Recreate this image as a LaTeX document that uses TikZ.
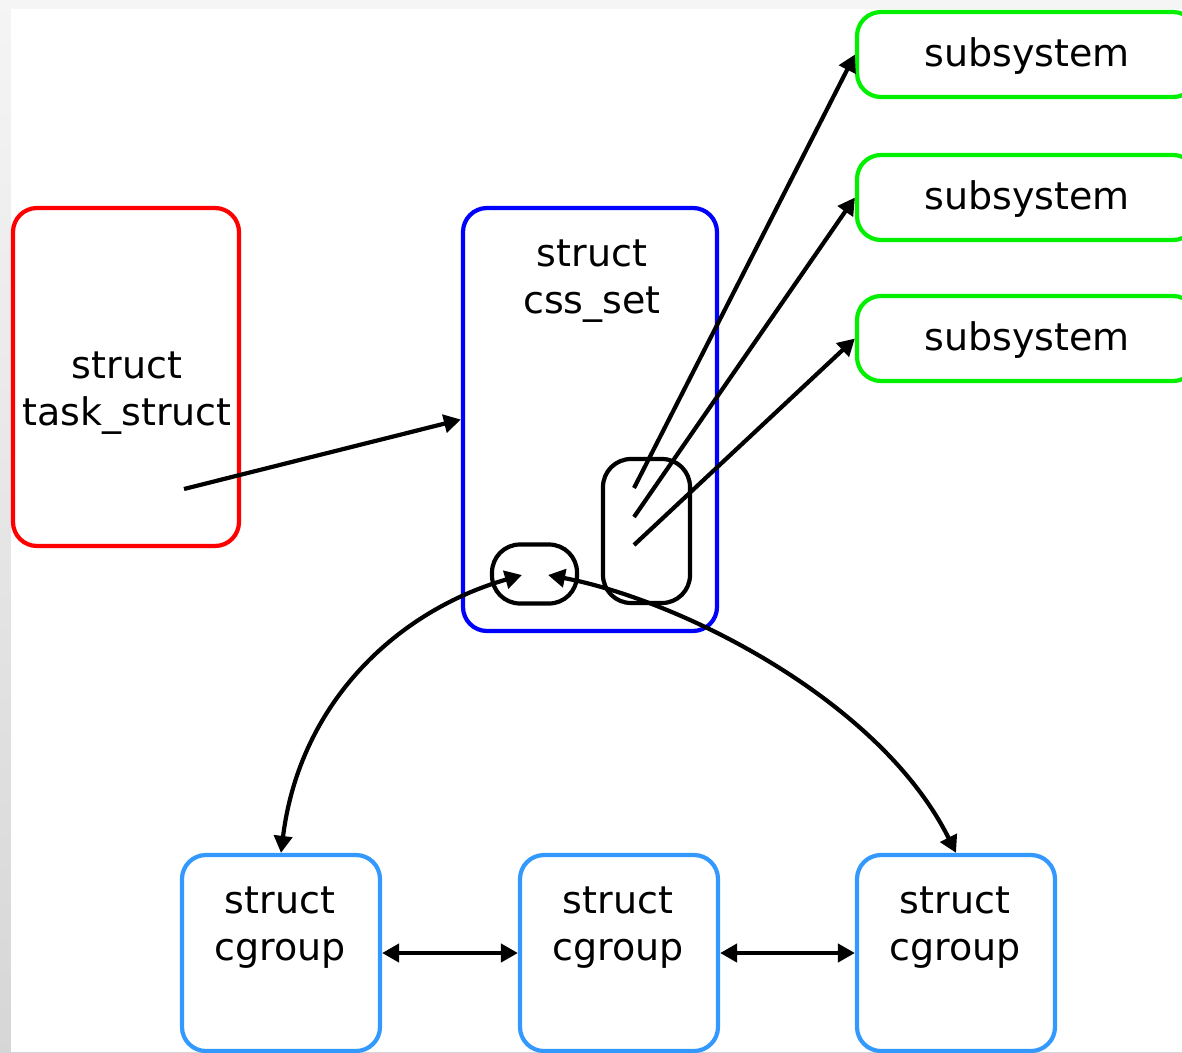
\documentclass[tikz,border=0pt]{standalone}
\usepackage{fontspec}
\setmainfont{DejaVu Sans}
\usetikzlibrary{arrows.meta}
\definecolor{boxred}{RGB}{255,0,0}
\definecolor{boxblue}{RGB}{0,0,255}
\definecolor{boxgreen}{RGB}{0,240,0}
\definecolor{cgblue}{RGB}{51,153,255}
\begin{document}
\begin{tikzpicture}[x=1pt,y=-1pt,
  box/.style={draw,line width=4.2pt,rounded corners=24pt,inner sep=0pt},
  lbl/.style={font=\fontsize{38}{47}\selectfont,align=center,inner sep=0pt},
  link/.style={line width=4.2pt},
  tip/.style={-{Triangle[length=17pt,width=18pt]}},
  tips/.style={{Triangle[length=17pt,width=18pt]}-{Triangle[length=17pt,width=18pt]}}]
% page frame with grey edges
\clip (0,0) rectangle (1182,1052);
\shade[top color=black!4,bottom color=black!16] (0,0) rectangle (1182,1052);
\fill[white] (11,9) rectangle (1182,1052);

% task_struct
\node[box,draw=boxred,minimum width=226pt,minimum height=338pt] (task) at (126,377) {};
\node[lbl] (tasklbl) at (127,393) {struct\\task\_struct};

% css_set
\node[box,draw=boxblue,minimum width=254pt,minimum height=423pt] (css) at (590,419.5) {};
\node[lbl] (csslbl) at (592,281) {struct\\css\_set};

% pointer slots inside css_set
\node[box,rounded corners=28pt,minimum width=85pt,minimum height=59pt] (cglink) at (534.5,574) {};
\node[box,rounded corners=28pt,minimum width=87pt,minimum height=144pt] (subs) at (646.5,531) {};

% subsystems
\foreach \i/\y in {1/54.5,2/197.5,3/338.5}{
  \node[box,draw=boxgreen,minimum width=340pt,minimum height=85pt] (sub\i) at (1027,\y) {};
  \node[lbl] (sublbl\i) at (1027,\y+2) {subsystem};
}

% cgroups
\foreach \i/\x in {1/281,2/619,3/956}{
  \node[box,draw=cgblue,minimum width=198pt,minimum height=196pt] (cg\i) at (\x,953) {};
  \node[lbl] (cglbl\i) at (\x-1,928) {struct\\cgroup};
}

% connector end points inside the boxes
\coordinate (taskp) at (184,489);
\coordinate (s1) at (634,488);
\coordinate (s2) at (634,517);
\coordinate (s3) at (634,545);
\coordinate (cgl) at (522,575);
\coordinate (cgr) at (548,575);

% connectors
\draw[link,tip] (taskp) -- (css.west);
\draw[link,tip] (s1) -- (sub1.west);
\draw[link,tip] (s2) -- (sub2.west);
\draw[link,tip] (s3) -- (sub3.west);
\draw[link,tips] (cg1.north) .. controls (300,700) and (400,610) .. (cgl);
\draw[link,tips] (cgr) .. controls (680,600) and (880,700) .. (cg3.north);
\draw[link,tips] (cg1.east) -- (cg2.west);
\draw[link,tips] (cg2.east) -- (cg3.west);
\end{tikzpicture}
\end{document}
